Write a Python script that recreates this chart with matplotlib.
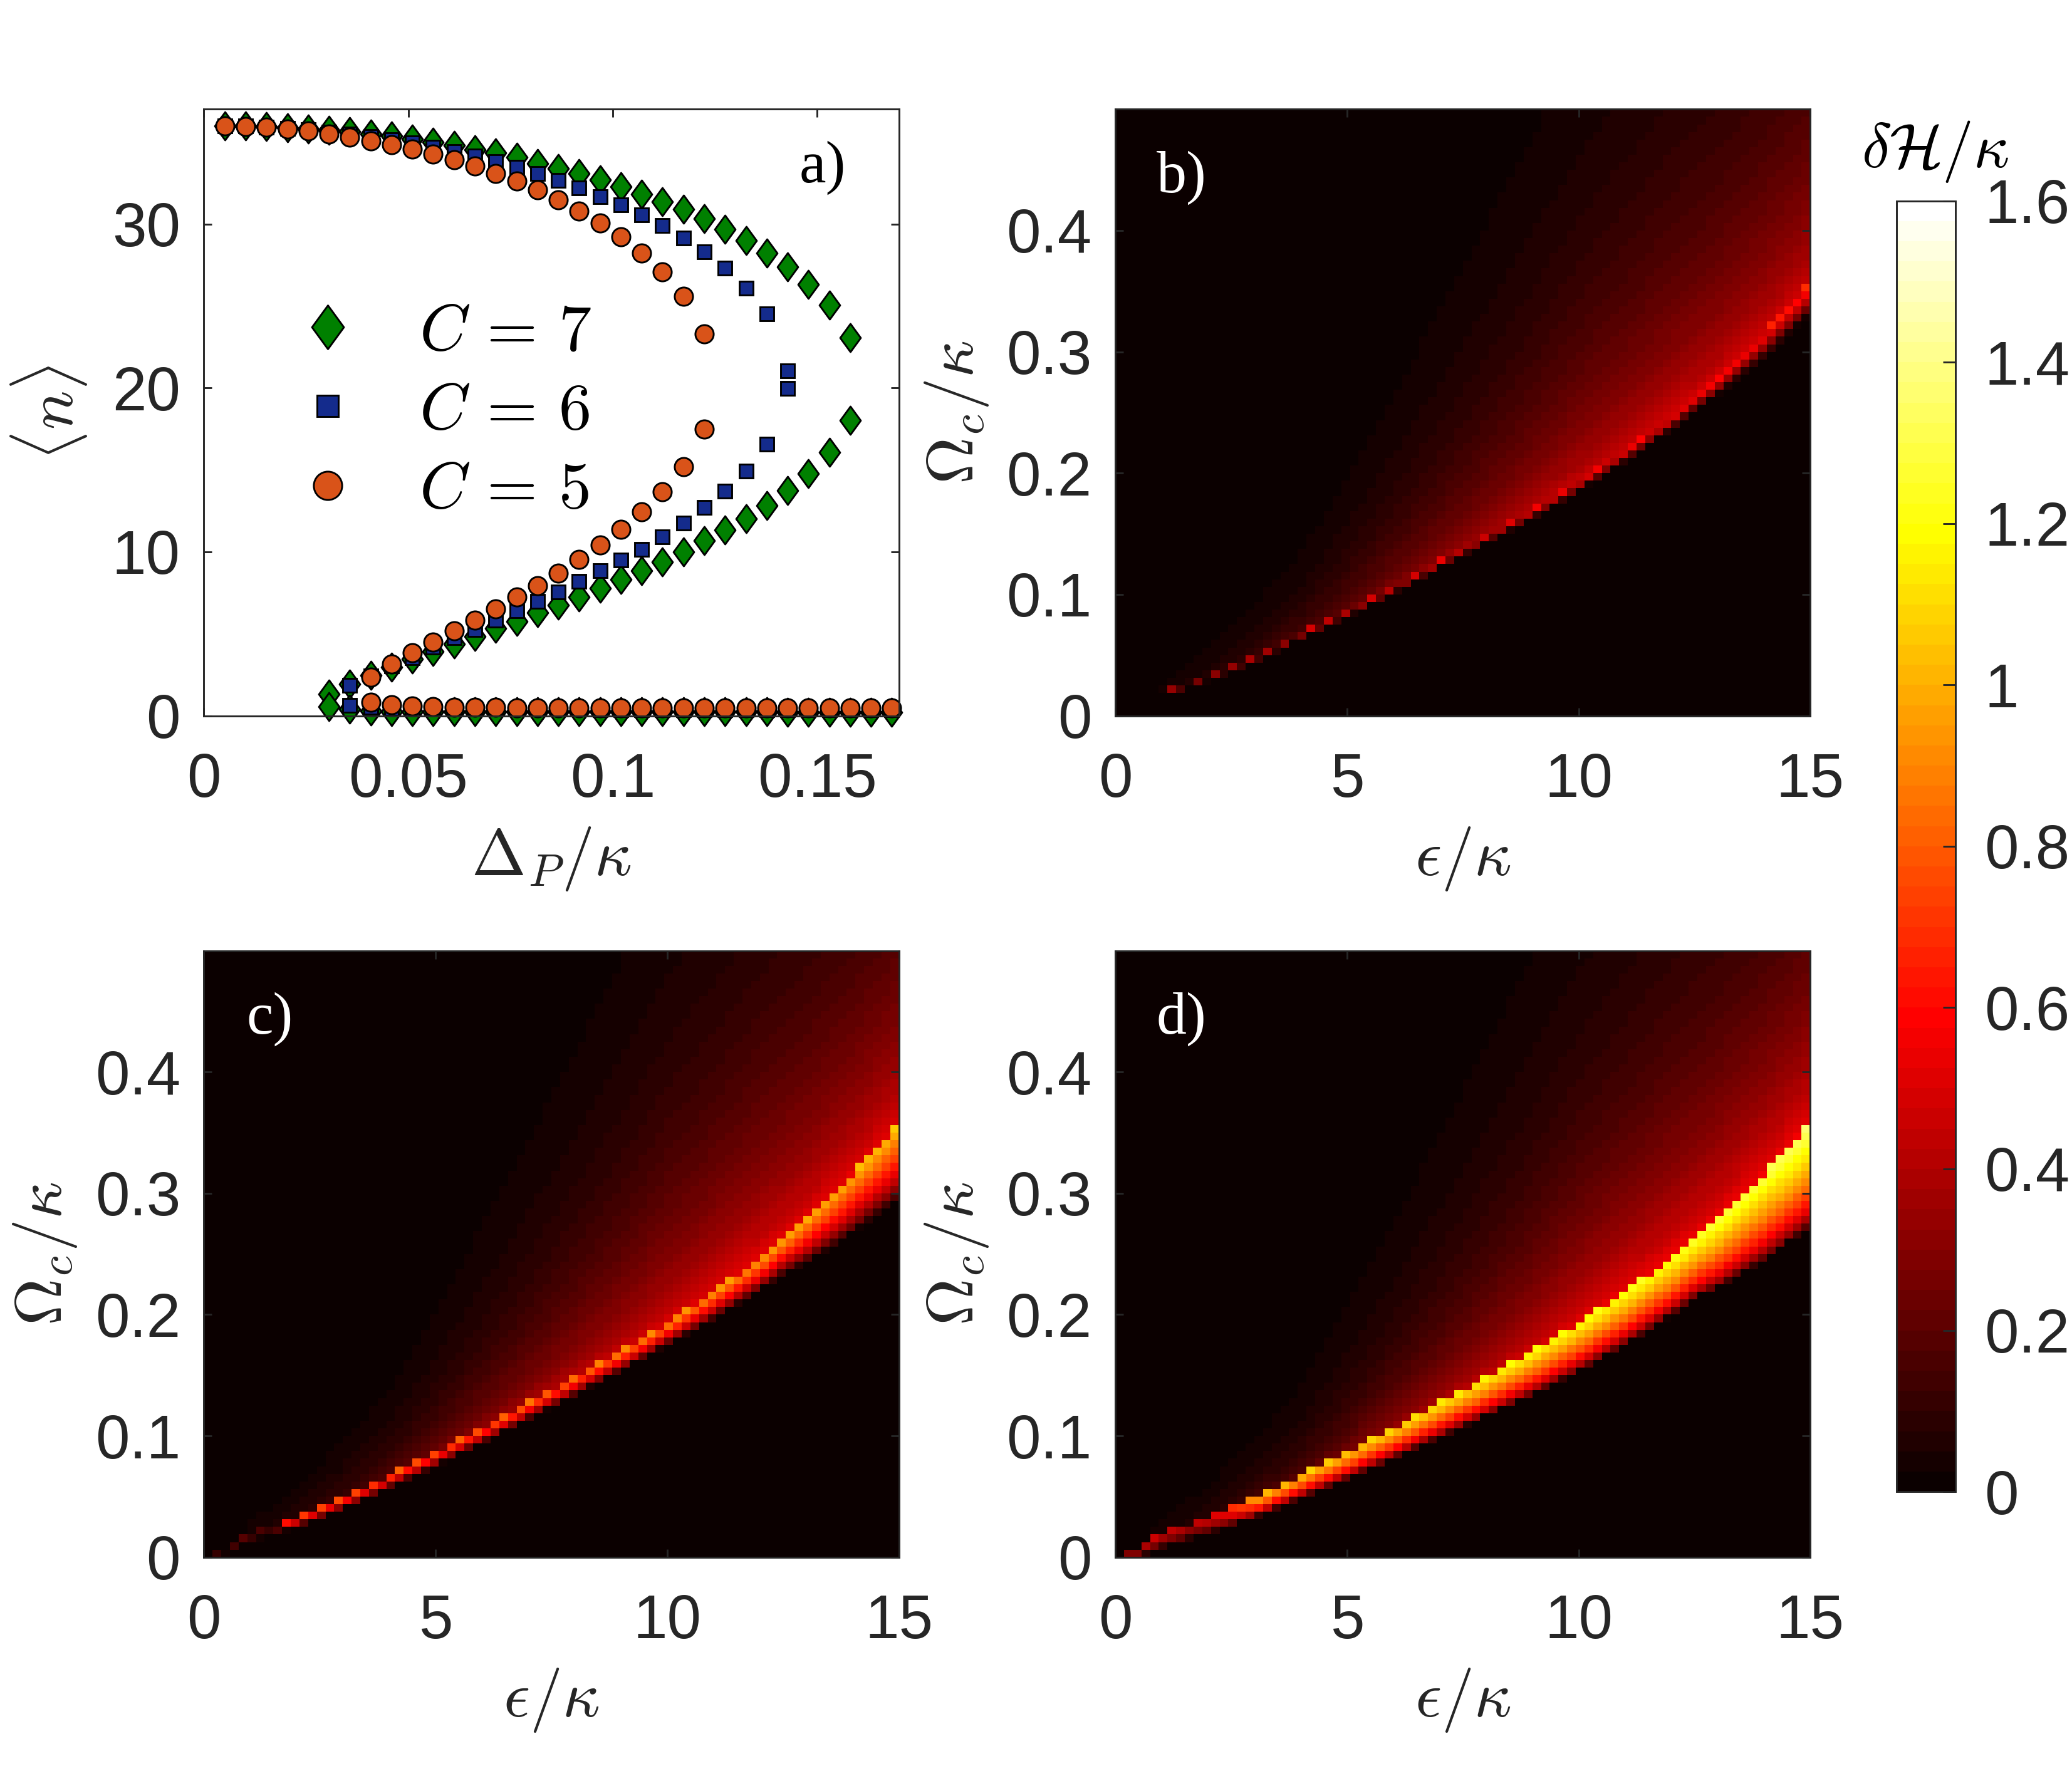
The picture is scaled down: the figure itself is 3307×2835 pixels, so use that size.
import numpy as np
import matplotlib
matplotlib.use('Agg')
import matplotlib.pyplot as plt
from matplotlib.path import Path

# ---- panel a) data: <n> vs Delta_P/kappa, three branches per C ----
dp = [0.0051, 0.0102, 0.0153, 0.0204, 0.0255, 0.0306, 0.0357, 0.0408, 0.0459,
      0.0510, 0.0561, 0.0612, 0.0663, 0.0714, 0.0765, 0.0816, 0.0867, 0.0918,
      0.0969, 0.1020, 0.1071, 0.1122, 0.1173, 0.1224, 0.1275, 0.1326, 0.1377,
      0.1428, 0.1479, 0.1530, 0.1581, 0.1632, 0.1683]

# C = 7 (upper branch from first point, middle/lower branch start at index 5)
c7_top = [35.99, 35.99, 35.94, 35.88, 35.80, 35.73, 35.63, 35.48, 35.37, 35.18,
          34.99, 34.80, 34.54, 34.35, 34.06, 33.70, 33.40, 33.07, 32.69, 32.28,
          31.83, 31.36, 30.88, 30.31, 29.69, 28.99, 28.23, 27.38, 26.32, 25.04,
          23.07]
c7_mid = [1.30, 1.92, 2.47, 2.97, 3.44, 3.90, 4.37, 4.82, 5.33, 5.77, 6.28, 6.75,
          7.24, 7.79, 8.31, 8.85, 9.39, 10.01, 10.68, 11.34, 12.02, 12.84, 13.75,
          14.79, 16.07, 18.02]
c7_low = [0.57, 0.40, 0.27, 0.26, 0.26, 0.25, 0.25, 0.25, 0.25, 0.24, 0.24, 0.24,
          0.24, 0.24, 0.24, 0.23, 0.23, 0.23, 0.23, 0.23, 0.23, 0.23, 0.22, 0.22,
          0.22, 0.22, 0.22, 0.22]
c7_start = 5

# C = 6
c6_top = [35.99, 35.97, 35.92, 35.84, 35.74, 35.61, 35.47, 35.32, 35.13, 34.94,
          34.68, 34.43, 34.14, 33.81, 33.47, 33.08, 32.65, 32.19, 31.68, 31.17,
          30.54, 29.90, 29.13, 28.31, 27.30, 26.08, 24.52, 21.04]
c6_mid = [1.87, 2.42, 3.05, 3.55, 4.18, 4.75, 5.26, 5.84, 6.41, 6.98, 7.56, 8.20,
          8.84, 9.48, 10.15, 10.93, 11.75, 12.70, 13.72, 14.94, 16.55, 19.97]
c6_low = [0.62, 0.50, 0.45, 0.42, 0.41, 0.40, 0.40, 0.40, 0.39, 0.39, 0.39, 0.39,
          0.38, 0.38, 0.38, 0.38, 0.38, 0.37, 0.37, 0.37, 0.37, 0.37, 0.37, 0.36,
          0.36, 0.36, 0.36]
c6_start = 6

# C = 5
c5_top = [35.98, 35.95, 35.89, 35.78, 35.66, 35.49, 35.31, 35.08, 34.85, 34.57,
          34.27, 33.93, 33.53, 33.09, 32.61, 32.08, 31.46, 30.79, 30.06, 29.20,
          28.24, 27.07, 25.57, 23.31]
c5_mid = [2.36, 3.15, 3.85, 4.49, 5.16, 5.82, 6.50, 7.23, 7.93, 8.70, 9.54, 10.41,
          11.36, 12.43, 13.66, 15.20, 17.48]
c5_low = [0.81, 0.66, 0.60, 0.56, 0.53, 0.51, 0.50, 0.49, 0.48, 0.48, 0.47, 0.47,
          0.47, 0.47, 0.47, 0.47, 0.46, 0.46, 0.46, 0.46, 0.46, 0.46, 0.46, 0.46,
          0.46, 0.46]
c5_start = 7

# ---- panels b)-d): delta H / kappa over (epsilon/kappa, Omega_c/kappa) ----
n_eps, n_om = 80, 80
eps_max, om_max = 15.0, 0.5

# upper edge of the bright bistable band
ridge_x = [0, 1, 2, 3, 4, 5, 6, 7, 8, 9, 10, 11, 12, 13, 14, 15]
ridge_y = [0.0, 0.019, 0.033, 0.049, 0.068, 0.087, 0.107, 0.128, 0.149, 0.170,
           0.193, 0.219, 0.247, 0.279, 0.316, 0.357]

# glow above the ridge: level next to the ridge and its decay length in Omega_c
glow_x = [0, 2, 4, 6, 8, 10, 12, 15]
glow_level = [0.0, 0.06, 0.15, 0.28, 0.38, 0.47, 0.50, 0.50]
glow_decay = [0.02, 0.025, 0.04, 0.07, 0.10, 0.13, 0.15, 0.16]
glow_near = [0.0, 0.02, 0.04, 0.05, 0.06, 0.06, 0.06, 0.06]

# depth of the band below the ridge
band_x = [0, 5, 10, 12.5, 15]
band_b = [0.004, 0.006, 0.008, 0.012, 0.026]
band_c = [0.006, 0.012, 0.018, 0.030, 0.062]
band_d = [0.008, 0.022, 0.040, 0.050, 0.085]

# peak value on the ridge
peak_x_b = [0, 1.1, 1.2, 3, 5, 8, 10, 12, 15]
peak_b = [0, 0, 0.36, 0.42, 0.55, 0.57, 0.58, 0.62, 0.70]
peak_x_c = [0, 0.4, 1.5, 1.8, 3, 5, 8, 10, 12, 14, 15]
peak_c = [0, 0.22, 0.15, 0.78, 0.80, 0.84, 0.90, 0.95, 1.00, 1.03, 1.06]
peak_x_d = [0, 0.4, 1.6, 2.2, 2.6, 3.1, 5, 8, 10, 12, 14, 15]
peak_d = [0, 0.50, 0.43, 0.55, 0.75, 1.06, 1.10, 1.19, 1.21, 1.25, 1.32, 1.38]

glow_gain_b, glow_gain_c, glow_gain_d = 0.85, 0.95, 1.0
band_shape_b, band_shape_c, band_shape_d = 0.8, 0.7, 0.55

cbar_ticks = [0, 0.2, 0.4, 0.6, 0.8, 1.0, 1.2, 1.4, 1.6]


def make_field(peak_x, peak, band, gain, shape):
    xe = np.linspace(0, eps_max, n_eps + 1)
    ye = np.linspace(0, om_max, n_om + 1)
    X, Y = np.meshgrid(0.5 * (xe[1:] + xe[:-1]), 0.5 * (ye[1:] + ye[:-1]))
    yr = np.interp(X, ridge_x, ridge_y)
    pk = np.interp(X, peak_x, peak)
    bw = np.interp(X, band_x, band)
    g0 = np.interp(X, glow_x, glow_level)
    L = np.interp(X, glow_x, glow_decay)
    g1 = np.interp(X, glow_x, glow_near)
    d = Y - yr
    s = np.clip(1 + d / bw, 0, 1)
    Z = np.where(d <= 0, pk * s ** shape,
                 gain * (g0 * np.exp(-d / L) + g1 * np.exp(-d / 0.015)))
    return xe, ye, Z


plt.rcParams['mathtext.fontset'] = 'cm'
plt.rcParams['font.family'] = ['Liberation Sans', 'DejaVu Sans']

axcol = '#262626'
fig = plt.figure(figsize=(3307 / 300, 2835 / 300), dpi=300)


def style(ax):
    for sp in ax.spines.values():
        sp.set_color(axcol)
        sp.set_linewidth(0.7)
    ax.tick_params(direction='in', length=3.2, width=0.7, color=axcol,
                   labelcolor=axcol, labelsize=23.5, top=True, right=True)
    ax.tick_params(axis='x', pad=14)
    ax.tick_params(axis='y', pad=9)


w, h = 0.3354, 0.3415
ax_a = fig.add_axes([0.0984, 0.597, w, h])
ax_b = fig.add_axes([0.5383, 0.597, w, h])
ax_c = fig.add_axes([0.0984, 0.1232, w, h])
ax_d = fig.add_axes([0.5383, 0.1232, w, h])

# ---- panel a ----
diamond = Path([(0, 1), (0.73, 0), (0, -1), (-0.73, 0), (0, 1)],
               [Path.MOVETO, Path.LINETO, Path.LINETO, Path.LINETO, Path.CLOSEPOLY])
series = [
    (r'$C\,=\,7$', c7_top, c7_mid, c7_low, c7_start, diamond, 10.8, '#008000'),
    (r'$C\,=\,6$', c6_top, c6_mid, c6_low, c6_start, 's', 5.3, '#142B8C'),
    (r'$C\,=\,5$', c5_top, c5_mid, c5_low, c5_start, 'o', 7.0, '#D95319'),
]
handles = []
for label, top, mid, low, start, mk, ms, col in series:
    kw = dict(ls='none', marker=mk, ms=ms, mfc=col, mec='black', mew=0.7, clip_on=False)
    h1, = ax_a.plot(dp[:len(top)], top, label=label, **kw)
    ax_a.plot(dp[start:start + len(mid)], mid, **kw)
    ax_a.plot(dp[start:start + len(low)], low, **kw)
    handles.append(h1)

ax_a.set_xlim(0, 0.17)
ax_a.set_ylim(0, 37)
ax_a.set_xticks([0, 0.05, 0.1, 0.15])
ax_a.set_xticklabels(['0', '0.05', '0.1', '0.15'])
ax_a.set_yticks([0, 10, 20, 30])
style(ax_a)
ax_a.set_xlabel(r'$\Delta_P/\kappa$', fontsize=25, color=axcol)
ax_a.set_ylabel(r'$\langle n\rangle$', fontsize=25, color=axcol)
ax_a.xaxis.set_label_coords(0.5, -0.18)
ax_a.yaxis.set_label_coords(-0.165, 0.5)
ax_a.text(0.89, 0.904, 'a)', transform=ax_a.transAxes, ha='center', va='center',
          fontsize=23, family='Liberation Serif')
ax_a.legend(handles, [s[0] for s in series], loc='center left',
            bbox_to_anchor=(0.122, 0.5), frameon=False, fontsize=25,
            markerscale=1.55, handlelength=1.2, handletextpad=0.8,
            labelspacing=0.28, borderpad=0, borderaxespad=0)

# ---- panels b, c, d ----
cmap = matplotlib.colormaps['hot'].resampled(64)
panels = [
    (ax_b, 'b)', peak_x_b, peak_b, band_b, glow_gain_b, band_shape_b),
    (ax_c, 'c)', peak_x_c, peak_c, band_c, glow_gain_c, band_shape_c),
    (ax_d, 'd)', peak_x_d, peak_d, band_d, glow_gain_d, band_shape_d),
]
for ax, tag, px, pk, bd, gain, shape in panels:
    xe, ye, Z = make_field(px, pk, bd, gain, shape)
    mesh = ax.pcolormesh(xe, ye, Z, cmap=cmap, vmin=0, vmax=1.6, shading='flat')
    ax.set_xlim(0, 15)
    ax.set_ylim(0, 0.5)
    ax.set_xticks([0, 5, 10, 15])
    ax.set_yticks([0, 0.1, 0.2, 0.3, 0.4])
    ax.set_yticklabels(['0', '0.1', '0.2', '0.3', '0.4'])
    style(ax)
    ax.set_xlabel(r'$\epsilon/\kappa$', fontsize=25, color=axcol)
    ax.set_ylabel(r'$\Omega_c/\kappa$', fontsize=25, color=axcol)
    ax.xaxis.set_label_coords(0.5, -0.18)
    ax.yaxis.set_label_coords(-0.18, 0.5)
    ax.text(0.095, 0.887, tag, transform=ax.transAxes, ha='center', va='center',
            fontsize=23, family='Liberation Serif', color='white')

cax = fig.add_axes([0.9152, 0.1601, 0.0287, 0.7268])
cb = fig.colorbar(mesh, cax=cax, ticks=cbar_ticks)
cb.ax.set_yticklabels(['%g' % v for v in cbar_ticks])
cb.outline.set_edgecolor(axcol)
cb.outline.set_linewidth(0.7)
cax.tick_params(direction='in', length=4.8, width=0.7, color=axcol,
                labelcolor=axcol, labelsize=23.5, pad=11)
fig.text(0.934, 0.9146, r'$\delta\mathcal{H}/\kappa$', ha='center', va='center',
         fontsize=24)

fig.savefig('out.png', dpi=300)
